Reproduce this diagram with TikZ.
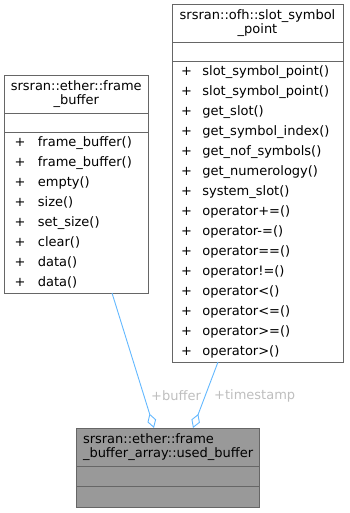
\documentclass[tikz,border=0pt]{standalone}
\usepackage{fontspec}
\setmainfont{DejaVu Sans}
\usepackage{xcolor}
\usepackage{tikz}
\usetikzlibrary{arrows.meta, positioning}
\definecolor{edgeblue}{HTML}{63B8FF}
\definecolor{boxline}{HTML}{666666}
\definecolor{boxgrey}{HTML}{999999}
\definecolor{rolegrey}{HTML}{BEBEBE}
\tikzstyle{classname} = [rectangle, draw=boxline, line width=0.8pt, fill=white, outer sep=0pt, inner xsep=6pt, minimum height=38pt, align=center, font=\fontsize{13}{14}\selectfont]
\tikzstyle{section} = [rectangle, draw=boxline, line width=0.8pt, fill=white, outer sep=0pt, minimum height=19pt]
\tikzstyle{members} = [rectangle, draw=boxline, line width=0.8pt, fill=white, outer sep=0pt, inner xsep=9pt, inner ysep=0.5pt, align=left, font=\fontsize{13}{20}\selectfont]
\tikzstyle{member} = [draw=edgeblue, line width=0.9pt, -{Diamond[open, length=15pt, width=9pt]}]
\tikzstyle{role} = [text=rolegrey, inner sep=0pt, anchor=west, font=\fontsize{13}{14}\selectfont]

\begin{document}
\begin{tikzpicture}[x=1pt, y=-1pt]
        \useasboundingbox (0,0) rectangle (349,513);

        % slot_symbol_point
        \node (sp) [classname, text width=159pt, anchor=north] at (257.5,4) {srsran::ofh::slot\_symbol\\\_point};
        \node (spattr) [section, minimum width=171pt, below=0pt of sp] {};
        \node (spops) [members, text width=153pt, inner xsep=9pt, below=0pt of spattr] {%
            \begin{tabular}{@{}l@{\hspace{10.5pt}}l@{}}
            + & slot\_symbol\_point()\\
            + & slot\_symbol\_point()\\
            + & get\_slot()\\
            + & get\_symbol\_index()\\
            + & get\_nof\_symbols()\\
            + & get\_numerology()\\
            + & system\_slot()\\
            + & operator+=()\\
            + & operator-=()\\
            + & operator==()\\
            + & operator!=()\\
            + & operator<()\\
            + & operator<=()\\
            + & operator>=()\\
            + & operator>()
            \end{tabular}};

        % frame_buffer
        \node (fb) [classname, text width=131.5pt, anchor=north] at (76.25,75) {srsran::ether::frame\\\_buffer};
        \node (fbattr) [section, minimum width=143.5pt, below=0pt of fb] {};
        \node (fbops) [members, text width=123.5pt, inner xsep=10pt, below=0pt of fbattr] {%
            \begin{tabular}{@{}l@{\hspace{12.5pt}}l@{}}
            + & frame\_buffer()\\
            + & frame\_buffer()\\
            + & empty()\\
            + & size()\\
            + & set\_size()\\
            + & clear()\\
            + & data()\\
            + & data()
            \end{tabular}};

        % used_buffer
        \node (ub) [classname, fill=boxgrey, align=left, text width=169pt, inner xsep=7pt, anchor=north] at (167.5,428) {srsran::ether::frame\\\_buffer\_array::used\_buffer};
        \node (ubattr) [section, fill=boxgrey, minimum width=183pt, minimum height=20pt, below=0pt of ub] {};
        \node (ubops) [section, fill=boxgrey, minimum width=183pt, minimum height=21pt, below=0pt of ubattr] {};

        \draw [member] ([xshift=35.75pt]fbops.south) -- ([xshift=-13.5pt]ub.north);
        \draw [member] ([xshift=-39.5pt]spops.south) -- ([xshift=25.5pt]ub.north);
        \node (buflbl) [role] at (151,396) {+buffer};
        \node (tslbl) [role] at (214,396) {+timestamp};
    \end{tikzpicture}
\end{document}
